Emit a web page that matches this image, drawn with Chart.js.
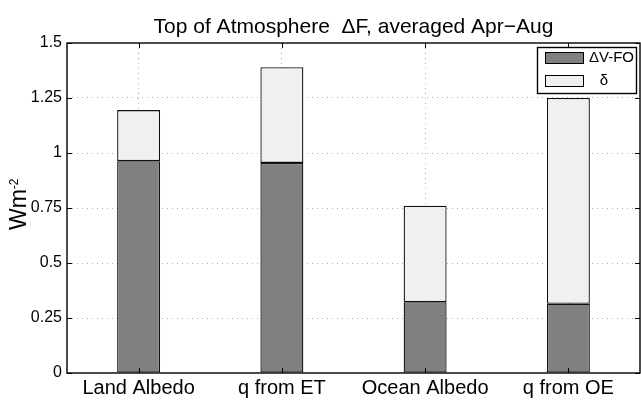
<!DOCTYPE html>
<html>
<head>
<meta charset="utf-8">
<script src="https://cdn.jsdelivr.net/npm/chart.js@4.4.1/dist/chart.umd.min.js"></script>
<style>
  html, body { margin: 0; padding: 0; background: #fff; }
  #wrap { width: 641px; height: 407px; }
</style>
</head>
<body>
<div id="wrap"><canvas id="chart" width="641" height="407"></canvas></div>
<script>
// data
const categories = ['Land Albedo', 'q from ET', 'Ocean Albedo', 'q from OE'];
const dVFO = [0.963, 0.955, 0.322, 0.315];
const delta = [0.232, 0.435, 0.438, 0.935];
const yTicks = [0, 0.25, 0.5, 0.75, 1, 1.25, 1.5];
const yTickLabels = ['0', '0.25', '0.5', '0.75', '1', '1.25', '1.5'];

const FONT = '"Liberation Sans", Arial, Helvetica, sans-serif';

// title, y label, axes box with inward ticks, legend inside the axes
const decorations = {
  id: 'decorations',
  afterDatasetsDraw(chart) {
    const ctx = chart.ctx;
    const a = chart.chartArea;
    const xs = chart.scales.x;
    const ys = chart.scales.y;
    ctx.save();

    // box
    ctx.strokeStyle = '#000';
    ctx.lineWidth = 1.4;
    ctx.strokeRect(a.left, a.top, a.right - a.left, a.bottom - a.top);

    // inward ticks
    ctx.lineWidth = 1;
    ctx.beginPath();
    yTicks.forEach(v => {
      const y = Math.round(ys.getPixelForValue(v)) + 0.5;
      ctx.moveTo(a.left, y); ctx.lineTo(a.left + 5, y);
      ctx.moveTo(a.right, y); ctx.lineTo(a.right - 5, y);
    });
    categories.forEach((c, i) => {
      const x = Math.round(xs.getPixelForValue(i)) + 0.5;
      ctx.moveTo(x, a.top); ctx.lineTo(x, a.top + 5);
      ctx.moveTo(x, a.bottom); ctx.lineTo(x, a.bottom - 5);
    });
    ctx.stroke();

    // title
    ctx.fillStyle = '#000';
    ctx.font = '21px ' + FONT;
    ctx.textAlign = 'center';
    ctx.textBaseline = 'alphabetic';
    ctx.fillText('Top of Atmosphere  \u0394F, averaged Apr\u2212Aug', (a.left + a.right) / 2, 33);

    // y label Wm^-2
    ctx.save();
    ctx.translate(26, 208);
    ctx.rotate(-Math.PI / 2);
    ctx.textAlign = 'left';
    ctx.font = '23px ' + FONT;
    const w1 = ctx.measureText('Wm').width;
    ctx.fillText('Wm', -22, 0);
    ctx.font = '12px ' + FONT;
    ctx.fillText('-2', -22 + w1, -8);
    ctx.restore();

    // legend
    const lx = 537, ly = 47, lw = 99, lh = 46;
    ctx.fillStyle = '#fff';
    ctx.fillRect(lx, ly, lw, lh);
    ctx.strokeStyle = '#000';
    ctx.lineWidth = 1.4;
    ctx.strokeRect(lx + 0.5, ly + 0.5, lw, lh);
    chart.data.datasets.forEach((ds, i) => {
      const sy = ly + 5 + i * 23;
      ctx.fillStyle = ds.backgroundColor;
      ctx.fillRect(545, sy, 38, 11);
      ctx.strokeStyle = '#000';
      ctx.lineWidth = 1;
      ctx.strokeRect(545.5, sy + 0.5, 38, 11);
      ctx.fillStyle = '#000';
      ctx.font = '15px ' + FONT;
      ctx.textBaseline = 'middle';
      if (i === 0) {
        ctx.textAlign = 'left';
        ctx.fillText(ds.label, 589, sy + 6);
      } else {
        ctx.textAlign = 'center';
        ctx.fillText(ds.label, 604, sy + 6);
      }
    });

    ctx.restore();
  }
};

new Chart(document.getElementById('chart'), {
  type: 'bar',
  data: {
    labels: categories,
    datasets: [
      {
        label: '\u0394V-FO',
        data: dVFO,
        backgroundColor: '#808080',
        borderColor: '#111',
        borderWidth: 1.3,
        borderSkipped: false,
      },
      {
        label: '\u03B4',
        data: delta,
        backgroundColor: '#f0f0f0',
        borderColor: '#111',
        borderWidth: 1.3,
        borderSkipped: false,
      },
    ],
  },
  plugins: [decorations],
  options: {
    responsive: false,
    animation: false,
    events: [],
    layout: { padding: { top: 43, right: 1, left: 0, bottom: 0 } },
    datasets: { bar: { categoryPercentage: 1, barPercentage: 0.3 } },
    plugins: {
      legend: { display: false },
      title: { display: false },
      tooltip: { enabled: false },
    },
    scales: {
      x: {
        stacked: true,
        offset: true,
        grid: {
          offset: false,
          color: '#b0b0b0',
          lineWidth: 1,
          tickLength: 0,
          drawTicks: false,
        },
        border: { display: false, dash: [1, 4] },
        ticks: {
          color: '#000',
          font: { family: FONT, size: 20 },
          padding: 3,
          maxRotation: 0,
          autoSkip: false,
        },
        afterFit(scale) { scale.height = 34; },
      },
      y: {
        stacked: true,
        min: 0,
        max: 1.5,
        afterBuildTicks(scale) {
          scale.ticks = yTicks.map(v => ({ value: v }));
        },
        grid: {
          color: (c) => (c.tick && (c.tick.value === 0 || c.tick.value === 1.5)) ? 'rgba(0,0,0,0)' : '#b0b0b0',
          lineWidth: 1,
          drawTicks: false,
          tickLength: 0,
        },
        border: { display: false, dash: [1, 4] },
        ticks: {
          color: '#000',
          font: { family: FONT, size: 16 },
          padding: 5,
          callback: (v, i) => yTickLabels[i],
        },
        afterFit(scale) { scale.width = 67; },
      },
    },
  },
});
</script>
</body>
</html>
